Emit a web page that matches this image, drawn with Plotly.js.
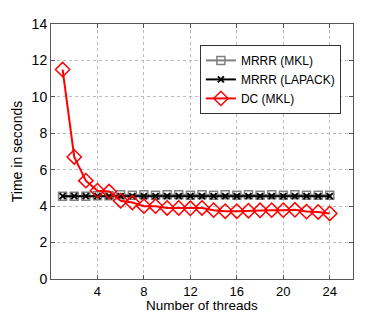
<!DOCTYPE html>
<html><head><meta charset="utf-8">
<script src="https://cdn.plot.ly/plotly-3.0.1.min.js"></script>
<style>body{margin:0;padding:0;background:#fff}#chart{width:390px;height:314px}</style>
</head><body><div id="chart"></div>
<script>
const threads = [1,2,3,4,5,6,7,8,9,10,11,12,13,14,15,16,17,18,19,20,21,22,23,24];
const mrrrMKL = [4.55,4.55,4.55,4.57,4.57,4.62,4.6,4.62,4.6,4.62,4.62,4.6,4.62,4.6,4.62,4.6,4.62,4.6,4.62,4.6,4.62,4.6,4.6,4.6];
const mrrrLAPACK = [4.55,4.55,4.55,4.55,4.55,4.55,4.55,4.55,4.55,4.55,4.55,4.55,4.55,4.55,4.55,4.55,4.55,4.55,4.55,4.55,4.55,4.55,4.55,4.55];
const dcMKL = [11.5,6.7,5.4,4.85,4.8,4.3,4.2,4.0,4.0,3.9,3.9,3.88,3.9,3.78,3.72,3.72,3.75,3.77,3.78,3.78,3.8,3.7,3.68,3.6];
const xTicks = [4,8,12,16,20,24];
const yTicks = [0,2,4,6,8,10,12,14];
const xTitle = 'Number of threads';
const yTitle = 'Time in seconds';

const traces = [
  {x: threads, y: mrrrMKL, name: 'MRRR (MKL)', mode: 'lines+markers',
   line: {color: '#808080', width: 2},
   marker: {symbol: 'square-open', size: 8, color: '#808080', line: {width: 1.5}}},
  {x: threads, y: mrrrLAPACK, name: 'MRRR (LAPACK)', mode: 'lines+markers',
   line: {color: '#000000', width: 2},
   marker: {symbol: 'x-thin-open', size: 6, color: '#000000', line: {width: 2}}},
  {x: threads, y: dcMKL, name: 'DC (MKL)', mode: 'lines+markers',
   line: {color: '#ff0000', width: 2},
   marker: {symbol: 'diamond-open', size: 11, color: '#ff0000', line: {width: 1.5}}}
];

const axisCommon = {
  showline: true, mirror: 'ticks', linecolor: '#555', linewidth: 1,
  ticks: 'inside', ticklen: 4, tickcolor: '#555',
  showgrid: true, gridcolor: '#bbb', griddash: 'dot', gridwidth: 1,
  zeroline: false,
  tickfont: {family: 'Liberation Sans, Arial, sans-serif', size: 14, color: '#000'}
};

const layout = {
  width: 390, height: 314,
  margin: {l: 51, r: 37, t: 24, b: 35},
  paper_bgcolor: '#fff', plot_bgcolor: '#fff',
  font: {family: 'Liberation Sans, Arial, sans-serif', color: '#000'},
  xaxis: Object.assign({}, axisCommon, {
    range: [0, 26], tickvals: xTicks,
    tickfont: {family: 'Liberation Sans, Arial, sans-serif', size: 13, color: '#000'}
  }),
  yaxis: Object.assign({}, axisCommon, {
    range: [0, 14], tickvals: yTicks,
    title: {text: yTitle, font: {size: 14}, standoff: 5}
  }),
  annotations: [{
    text: xTitle, xref: 'paper', yref: 'paper', x: 0.5, y: -0.104,
    xanchor: 'center', yanchor: 'middle', showarrow: false,
    font: {size: 13.5, family: 'Liberation Sans, Arial, sans-serif', color: '#000'}
  }],
  legend: {
    x: 0.493, y: 0.918, xanchor: 'left', yanchor: 'top',
    bgcolor: '#fff', bordercolor: '#333', borderwidth: 1,
    font: {size: 12, family: 'Liberation Sans, Arial, sans-serif'},
    tracegroupgap: 0, itemwidth: 30
  },
  showlegend: true
};

Plotly.newPlot('chart', traces, layout, {displayModeBar: false, staticPlot: true});
</script></body></html>
